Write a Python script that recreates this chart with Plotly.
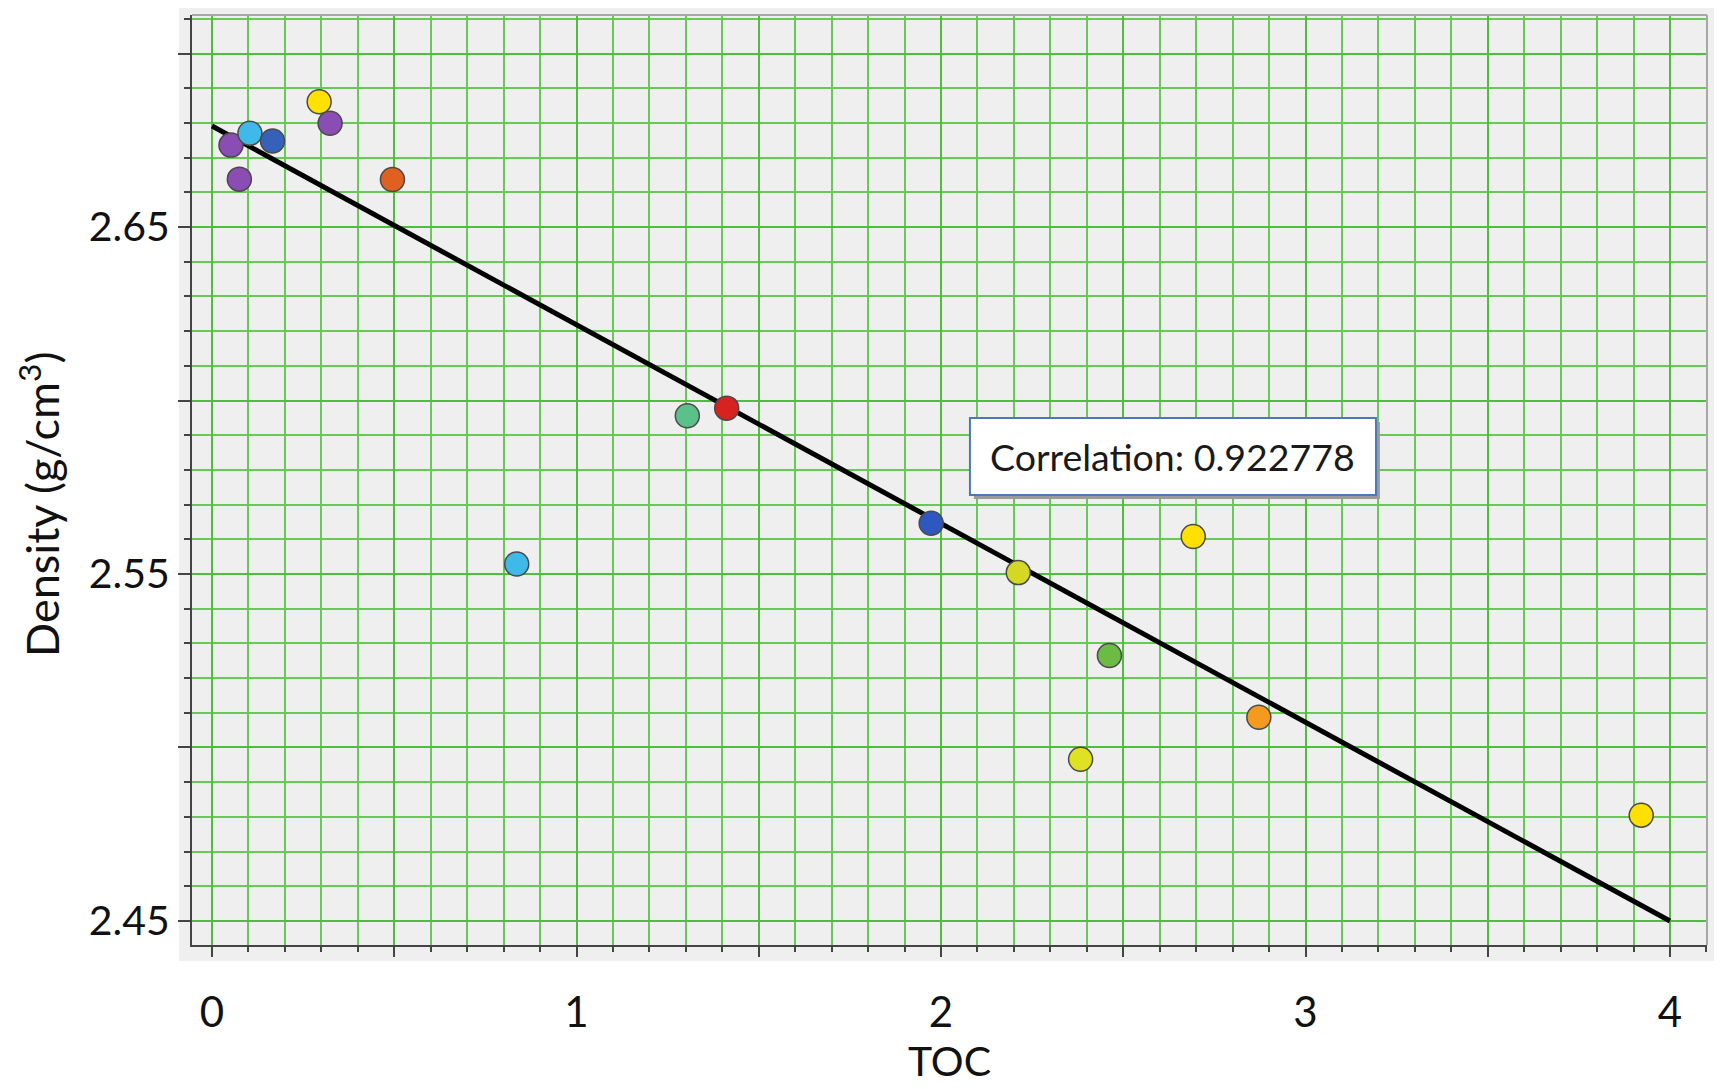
import plotly.graph_objects as go

# ---- data ----
toc = [0.052, 0.075, 0.104, 0.166, 0.294, 0.324, 0.495, 0.836, 1.304, 1.412,
       1.973, 2.212, 2.692, 2.462, 2.383, 2.872, 3.921]
density = [2.6736, 2.6638, 2.6770, 2.6748, 2.6861, 2.6799, 2.6637, 2.5529, 2.5956, 2.5978,
           2.5646, 2.5504, 2.5608, 2.5265, 2.4966, 2.5087, 2.4805]
point_colors = ["#8a4db3", "#8a4db3", "#3fb8ea", "#3561b9", "#ffe100", "#8a4db3", "#e0601f",
                "#3fb8ea", "#5cc08a", "#d8221f", "#2f57c0", "#d3d824", "#ffe000", "#6cbb45",
                "#dfe222", "#f49a1f", "#ffe000"]

fit_x = [0.0, 4.0]
fit_y = [2.6791, 2.4500]

x_major_step = 0.5
x_minor_step = 0.1
y_major_step = 0.05
y_minor_step = 0.01
y_first_tick = 2.45

correlation_text = "Correlation: 0.922778"
x_title = "TOC"
y_title = "Density (g/cm<sup>3</sup>)"

FONT = "Lato"
MAJOR_GRID = "#4fbe3e"
MINOR_GRID = "#68c957"
AXIS = "#444444"

fig = go.Figure()

fig.add_trace(go.Scatter(
    x=fit_x, y=fit_y, mode="lines",
    line=dict(color="black", width=5),
    hoverinfo="skip", showlegend=False,
))

fig.add_trace(go.Scatter(
    x=toc, y=density, mode="markers",
    marker=dict(size=24, color=point_colors, line=dict(color="#4a4a4a", width=1.5)),
    showlegend=False,
))

# grey panel behind the plot, extending slightly past the axes
fig.add_shape(type="rect", xref="paper", yref="paper",
              x0=-0.0086, x1=1.0099, y0=-0.0172, y1=1.0108,
              fillcolor="#efefef", line=dict(width=0), layer="below")
# light frame on top / right
fig.add_shape(type="line", xref="paper", yref="paper", x0=0, x1=1, y0=1, y1=1,
              line=dict(color="#a8a8a8", width=2))
fig.add_shape(type="line", xref="paper", yref="paper", x0=1, x1=1, y0=0, y1=1,
              line=dict(color="#a8a8a8", width=2))

# correlation box: shadow + box
fig.add_shape(type="rect", xref="paper", yref="paper",
              x0=0.5161, x1=0.7841, y0=0.4796, y1=0.5624,
              fillcolor="#9a9a9a", line=dict(width=0), layer="above")
fig.add_shape(type="rect", xref="paper", yref="paper",
              x0=0.5135, x1=0.7815, y0=0.4839, y1=0.5667,
              fillcolor="white", line=dict(color="#4a78b8", width=2), layer="above")
fig.add_annotation(xref="paper", yref="paper", x=0.6475, y=0.5253,
                   text=correlation_text, showarrow=False,
                   font=dict(family=FONT, size=37.5, color="#1a1a1a"),
                   xanchor="center", yanchor="middle")

# y-axis title (placed as an annotation so it can sit slightly below centre, as in the reference)
fig.add_annotation(xref="paper", yref="paper", x=-0.1005, y=0.474,
                   text=y_title, textangle=-90, showarrow=False,
                   font=dict(family=FONT, size=45, color="#111111"),
                   xanchor="center", yanchor="middle")

fig.update_xaxes(
    range=[-0.0549, 4.1015],
    tickmode="linear", tick0=0, dtick=x_major_step, ticklabelstep=2, tickformat=".0f",
    ticks="outside", ticklen=10, tickwidth=2, tickcolor=AXIS,
    ticklabelstandoff=20,
    showline=True, linecolor=AXIS, linewidth=2,
    showgrid=True, gridcolor=MAJOR_GRID, gridwidth=2.4,
    zeroline=False,
    minor=dict(dtick=x_minor_step, tick0=0, ticks="outside", ticklen=5, tickwidth=1.5,
               tickcolor=AXIS, showgrid=True, gridcolor=MINOR_GRID, gridwidth=2.1),
    tickfont=dict(family=FONT, size=42, color="#111111"),
    title=dict(text=x_title, font=dict(family=FONT, size=41, color="#111111"), standoff=12),
)

fig.update_yaxes(
    range=[2.44308, 2.71110],
    tickmode="linear", tick0=y_first_tick, dtick=y_major_step, ticklabelstep=2, tickformat=".2f",
    ticks="outside", ticklen=12, tickwidth=2, tickcolor=AXIS,
    ticklabelstandoff=0,
    showline=True, linecolor=AXIS, linewidth=2,
    showgrid=True, gridcolor=MAJOR_GRID, gridwidth=2.4,
    zeroline=False,
    minor=dict(dtick=y_minor_step, tick0=y_first_tick, ticks="outside", ticklen=6, tickwidth=1.5,
               tickcolor=AXIS, showgrid=True, gridcolor=MINOR_GRID, gridwidth=2.1),
    tickfont=dict(family=FONT, size=41, color="#111111"),
)

fig.update_layout(
    width=1714, height=1081,
    margin=dict(l=184, r=15, t=7, b=144),
    paper_bgcolor="white", plot_bgcolor="#efefef",
    font=dict(family=FONT),
    showlegend=False,
)

fig.write_html("out.html")
